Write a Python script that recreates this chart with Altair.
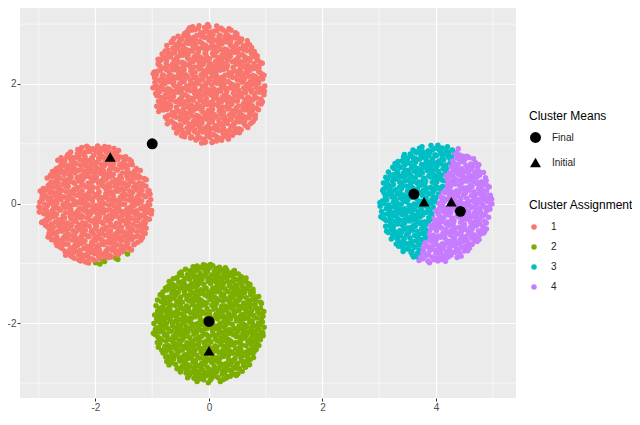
import altair as alt
import pandas as pd

# ---- data ----
disc_cx = [-2.0, 0.0, 0.0, 4.0]
disc_cy = [-0.02, 2.0, -2.0, 0.0]
disc_r = [1.0, 1.0, 1.0, 1.0]
disc_n = [720, 720, 720, 720]

cluster_labels = ["1", "2", "3", "4"]
cluster_colors = ["#F8766D", "#7CAE00", "#00BFC4", "#C77CFF"]

final_x = [-1.0, 0.0, 3.61, 4.43]
final_y = [1.0, -1.97, 0.16, -0.13]
init_x = [-1.74, 0.0, 3.79, 4.27]
init_y = [0.78, -2.46, 0.03, 0.03]
mean_kinds = ["Final", "Initial"]

x_ticks = [-2, 0, 2, 4]
y_ticks = [-2, 0, 2]
x_minor = [-3, -1, 1, 3, 5]
y_minor = [-3, -1, 1, 3]


def radical_inverse(i, b):
    f, r = 1.0, 0.0
    while i > 0:
        f /= b
        r += f * (i % b)
        i //= b
    return r


# points filling each disc (deterministic low-discrepancy layout)
rows = []
start = 1
for cx, cy, rr, n in zip(disc_cx, disc_cy, disc_r, disc_n):
    k = 0
    i = start
    while k < n:
        u = 2 * radical_inverse(i, 2) - 1
        v = 2 * radical_inverse(i, 3) - 1
        i += 1
        if u * u + v * v <= 1:
            px, py = cx + rr * u, cy + rr * v
            d = [(px - fx) ** 2 + (py - fy) ** 2 for fx, fy in zip(final_x, final_y)]
            c = cluster_labels[d.index(min(d))]
            rows.append({"x": px, "y": py, "cluster": c})
            k += 1
    start = i + 37
pts = pd.DataFrame(rows)

means = pd.DataFrame(
    [{"x": a, "y": b, "kind": "Final"} for a, b in zip(final_x, final_y)]
    + [{"x": a, "y": b, "kind": "Initial"} for a, b in zip(init_x, init_y)]
)
vmin = pd.DataFrame({"x": x_minor})
hmin = pd.DataFrame({"y": y_minor})

FONT = "Liberation Sans"
xs = alt.Scale(domain=[-3.33, 5.41], nice=False, zero=False)
ys = alt.Scale(domain=[-3.25, 3.27], nice=False, zero=False)
lab = dict(labelFont=FONT, labelFontSize=10, labelColor="#4D4D4D",
           tickColor="#333333", tickSize=3, tickWidth=1, labelPadding=1,
           domain=False, grid=True, gridColor="white", gridWidth=1.2, title=None,
           labelExpr="datum.value < 0 ? '-' + abs(datum.value) : '' + datum.value")
xa = alt.Axis(values=x_ticks, **lab)
ya = alt.Axis(values=y_ticks, **lab)

minor_v = alt.Chart(vmin).mark_rule(color="white", strokeWidth=0.6).encode(
    x=alt.X("x:Q", scale=xs, axis=xa))
minor_h = alt.Chart(hmin).mark_rule(color="white", strokeWidth=0.6).encode(
    y=alt.Y("y:Q", scale=ys, axis=ya))

points = alt.Chart(pts).mark_circle(size=30, opacity=1).encode(
    x=alt.X("x:Q", scale=xs, axis=xa),
    y=alt.Y("y:Q", scale=ys, axis=ya),
    color=alt.Color("cluster:N",
                    scale=alt.Scale(domain=cluster_labels, range=cluster_colors),
                    legend=alt.Legend(title="Cluster Assignment", orient="none",
                                      legendX=509, legendY=192,
                                      titleFont=FONT, titleFontSize=12,
                                      titleFontWeight="normal", titleColor="black",
                                      labelFont=FONT, labelFontSize=10,
                                      labelColor="#222222", symbolSize=30,
                                      symbolType="circle", rowPadding=10,
                                      labelOffset=12, titlePadding=10, padding=0)),
)

meanlayer = alt.Chart(means).mark_point(filled=True, size=120, color="black", opacity=1).encode(
    x=alt.X("x:Q", scale=xs, axis=xa),
    y=alt.Y("y:Q", scale=ys, axis=ya),
    shape=alt.Shape("kind:N",
                    scale=alt.Scale(domain=mean_kinds, range=["circle", "triangle-up"]),
                    legend=alt.Legend(title="Cluster Means", orient="none",
                                      legendX=509, legendY=103,
                                      titleFont=FONT, titleFontSize=12,
                                      titleFontWeight="normal", titleColor="black",
                                      labelFont=FONT, labelFontSize=10,
                                      labelColor="#222222", symbolSize=120,
                                      symbolFillColor="black", symbolStrokeColor="black",
                                      rowPadding=8, labelOffset=10, titlePadding=8,
                                      padding=0)),
)

chart = alt.layer(minor_v, minor_h, points, meanlayer).properties(
    width=496, height=390,
    autosize=alt.AutoSizeParams(type="none"),
    padding={"left": 12, "top": 0, "right": 116, "bottom": 16},
).configure_view(fill="#EBEBEB", stroke=None)

chart.save("out.html", embed_options={"renderer": "svg", "actions": False})
